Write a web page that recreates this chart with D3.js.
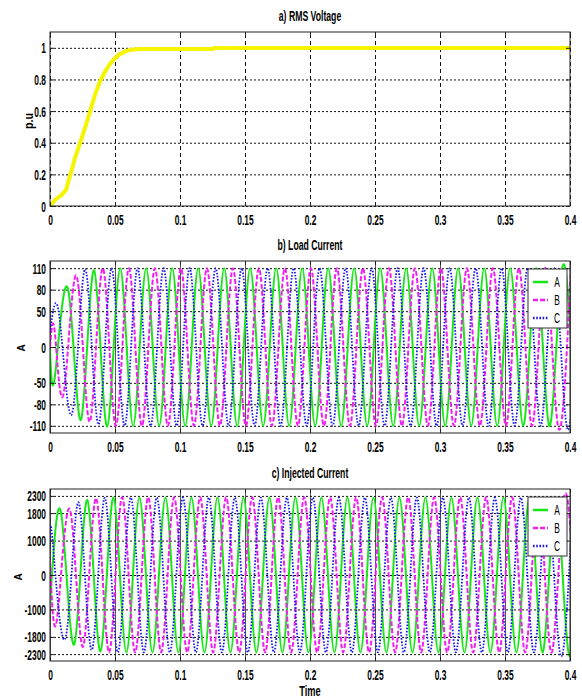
<!DOCTYPE html>
<html>
<head>
<meta charset="utf-8">
<script src="https://cdn.jsdelivr.net/npm/d3@7"></script>
<style>
  html, body { margin: 0; padding: 0; background: #fff; }
  svg { display: block; }
  text { font-family: "Liberation Sans", Arial, sans-serif; fill: #000; }
</style>
</head>
<body>
<svg id="chart" width="582" height="700"></svg>
<script>
// ---- shared time axis ----
const xTicks = [0, 0.05, 0.1, 0.15, 0.2, 0.25, 0.3, 0.35, 0.4];
const xTickLabels = ["0", "0.05", "0.1", "0.15", "0.2", "0.25", "0.3", "0.35", "0.4"];

// ---- a) RMS voltage (p.u) ----
const rmsTime  = [0, 0.0039, 0.009, 0.0123, 0.0141, 0.0167, 0.0192, 0.0231, 0.0269, 0.0308,
                  0.0346, 0.0385, 0.0423, 0.0462, 0.05, 0.0538, 0.059, 0.0641, 0.07, 0.1, 0.1255, 0.1262, 0.4];
const rmsValue = [0, 0.038, 0.07, 0.101, 0.154, 0.228, 0.302, 0.397, 0.492, 0.597,
                  0.703, 0.787, 0.85, 0.899, 0.935, 0.96, 0.981, 0.99, 0.992, 0.992, 0.992, 0.999, 0.999];
const rmsTicks = [0, 0.2, 0.4, 0.6, 0.8, 1];
const rmsTickLabels = ["0", "0.2", "0.4", "0.6", "0.8", "1"];

// ---- phase currents: one extremum every half cycle (50 Hz) ----
const halfCycle = 0.01;
const phaseNames = ["A", "B", "C"];

// b) load current (A)
const loadLeadA = [[0, -4]];
const loadStartA = 0.004;
const loadPeaksA = [-38, 80, -101, 107, -111, 110, -110, 110, -110, 110,
                    -110, 110, -110, 110, -110, 110, -110, 110, -110, 110,
                    -110, 110, -110, 110, -110, 110, -110, 110, -110, 110,
                    -110, 110, -110, 110, -110, 110, -110, 110, -110, 110,
                    -110];
const loadLeadB = [[0, 0], [0.0038, 19]];
const loadStartB = 0.0107;
const loadPeaksB = [-63, 98, -104, 110, -110, 110, -110, 110, -110, 110,
                    -110, 110, -110, 110, -110, 110, -110, 110, -110, 110,
                    -110, 110, -110, 110, -110, 110, -110, 110, -110, 110,
                    -110, 110, -110, 110, -110, 110, -110, 110, -110, 110];
const loadLeadC = [[0, 20]];
const loadStartC = 0.0074;
const loadPeaksC = [40, -90, 108, -108, 110, -110, 110, -110, 110, -110,
                    110, -110, 110, -110, 110, -110, 110, -110, 110, -110,
                    110, -110, 110, -110, 110, -110, 110, -110, 110, -110,
                    110, -110, 110, -110, 110, -110, 110, -110, 110, -110,
                    110];
const loadTicks = [-110, -80, -50, 0, 50, 80, 110];
const loadTickLabels = ["-110", "-80", "-50", "0", "50", "80", "110"];

// c) injected current (A)
const injLeadA = [[0, -900]];
const injStartA = 0.0088;
const injPeaksA = [1740, -2000, 2175, -2220, 2250, -2250, 2250, -2250, 2250, -2250,
                   2250, -2250, 2250, -2250, 2250, -2250, 2250, -2250, 2250, -2250,
                   2250, -2250, 2250, -2250, 2250, -2250, 2250, -2250, 2250, -2250,
                   2250, -2250, 2250, -2250, 2250, -2250, 2250, -2250, 2250, -2250,
                   2250];
const injLeadB = [[0, 430]];
const injStartB = 0.0055;
const injPeaksB = [-1250, 1880, -2080, 2230, -2250, 2260, -2250, 2260, -2250, 2260,
                   -2250, 2260, -2250, 2260, -2250, 2260, -2250, 2260, -2250, 2260,
                   -2250, 2260, -2250, 2260, -2250, 2260, -2250, 2260, -2250, 2260,
                   -2250, 2260, -2250, 2260, -2250, 2260, -2250, 2260, -2250, 2260,
                   -2250];
const injLeadC = [[0, 800]];
const injStartC = 0.0022;
const injPeaksC = [920, -1790, 2100, -2180, 2240, -2250, 2250, -2250, 2250, -2250,
                   2250, -2250, 2250, -2250, 2250, -2250, 2250, -2250, 2250, -2250,
                   2250, -2250, 2250, -2250, 2250, -2250, 2250, -2250, 2250, -2250,
                   2250, -2250, 2250, -2250, 2250, -2250, 2250, -2250, 2250, -2250,
                   2250];
const injTicks = [-2300, -1800, -1000, 0, 1000, 1800, 2300];
const injTickLabels = ["-2300", "-1800", "-1000", "0", "1000", "1800", "2300"];

// ---- drawing ----
const svg = d3.select("#chart");
const left = 50, right = 570;
const squeeze = 0.6;
const fontStack = "\"Liberation Sans\", Arial, sans-serif";

const x = d3.scaleLinear().domain([0, 0.4]).range([left, right]);

const phaseStyle = {
  A: { color: "#19e619", dash: null,      width: 2 },
  B: { color: "#f020f0", dash: "5,2",     width: 2 },
  C: { color: "#1a1ae6", dash: "1.6,1.6", width: 1.8 }
};

function knots(lead, start, peaks) {
  return lead.concat(peaks.map((v, k) => [start + k * halfCycle, v]));
}

function narrowLabel(parent, str, px, py, opt) {
  const g = parent.append("g")
    .attr("transform", `translate(${px},${py})` + (opt.rotate ? ` rotate(${opt.rotate})` : ""));
  g.append("text")
    .attr("transform", `scale(${opt.sx || squeeze},1)`)
    .attr("text-anchor", opt.anchor || "middle")
    .style("font-size", opt.size + "px")
    .style("font-weight", opt.weight || "normal")
    .text(str);
}

function panel(cfg) {
  const top = cfg.top, bottom = cfg.bottom;
  const h = bottom - top;
  const y = d3.scaleLinear().domain(cfg.yDomain).range([bottom, top]);
  const g = svg.append("g");
  const clipId = "clip" + cfg.id;
  svg.append("clipPath").attr("id", clipId)
    .append("rect").attr("x", left).attr("y", top).attr("width", right - left).attr("height", h);

  // vertical grid
  const vg = g.append("g").attr("transform", `translate(0,${bottom})`)
    .call(d3.axisBottom(x).tickValues(xTicks).tickSize(-h).tickFormat(""));
  vg.select(".domain").remove();
  vg.selectAll("line")
    .attr("stroke", cfg.vGridColor)
    .attr("stroke-dasharray", cfg.vGridDash)
    .attr("stroke-width", 1);

  // horizontal grid
  const hg = g.append("g").attr("transform", `translate(${left},0)`)
    .call(d3.axisLeft(y).tickValues(cfg.yTicks).tickSize(-(right - left)).tickFormat(""));
  hg.select(".domain").remove();
  hg.selectAll("line")
    .attr("stroke", "#111")
    .attr("stroke-dasharray", "2,2")
    .attr("stroke-width", 1);

  // data
  const plot = g.append("g").attr("clip-path", `url(#${clipId})`);
  cfg.draw(plot, y);

  // frame
  g.append("rect").attr("x", left).attr("y", top).attr("width", right - left).attr("height", h)
    .attr("fill", "none").attr("stroke", "#222").attr("stroke-width", 1);

  // axes with inward ticks
  const xa = g.append("g").attr("transform", `translate(0,${bottom})`)
    .call(d3.axisBottom(x).tickValues(xTicks).tickSizeInner(-4).tickSizeOuter(0)
      .tickFormat((d, i) => xTickLabels[i]));
  xa.select(".domain").remove();
  xa.selectAll("line").attr("stroke", "#222");
  xa.selectAll("text")
    .attr("y", 19).attr("dy", 0).attr("x", 0)
    .attr("transform", `scale(${squeeze},1)`)
    .attr("fill", "#000")
    .style("font-size", "14px").style("font-weight", "bold").style("font-family", fontStack);

  const ya = g.append("g").attr("transform", `translate(${left},0)`)
    .call(d3.axisLeft(y).tickValues(cfg.yTicks).tickSizeInner(-4).tickSizeOuter(0)
      .tickFormat((d, i) => cfg.yTickLabels[i]));
  ya.select(".domain").remove();
  ya.selectAll("line").attr("stroke", "#222");
  ya.selectAll("text")
    .attr("x", -4 / squeeze).attr("dy", "0.36em")
    .attr("transform", `scale(${squeeze},1)`)
    .attr("fill", "#000")
    .style("font-size", "14px").style("font-weight", "bold").style("font-family", fontStack);

  // mirrored ticks on top and right
  const ta = g.append("g").attr("transform", `translate(0,${top})`)
    .call(d3.axisTop(x).tickValues(xTicks).tickSizeInner(-4).tickSizeOuter(0).tickFormat(""));
  ta.select(".domain").remove();
  ta.selectAll("line").attr("stroke", "#222");
  const ra = g.append("g").attr("transform", `translate(${right},0)`)
    .call(d3.axisRight(y).tickValues(cfg.yTicks).tickSizeInner(-4).tickSizeOuter(0).tickFormat(""));
  ra.select(".domain").remove();
  ra.selectAll("line").attr("stroke", "#222");

  // title and y label
  narrowLabel(svg, cfg.title, (left + right) / 2, cfg.titleY, { size: 14, weight: "bold", sx: 0.62 });
  narrowLabel(svg, cfg.yLabel, cfg.yLabelX, cfg.yLabelY, { size: cfg.yLabelSize, weight: "bold", rotate: -90, sx: 0.9 });

  if (cfg.legend) drawLegend(top + 8);
}

function drawLegend(top) {
  const lx = 528, lw = 39, lh = 59;
  const lg = svg.append("g");
  lg.append("rect").attr("x", lx).attr("y", top).attr("width", lw).attr("height", lh)
    .attr("fill", "#fff").attr("stroke", "#333").attr("stroke-width", 1);
  phaseNames.forEach((p, i) => {
    const cy = top + 13 + i * 18;
    const s = phaseStyle[p];
    lg.append("line").attr("x1", lx + 5).attr("x2", lx + 20).attr("y1", cy).attr("y2", cy)
      .attr("stroke", s.color).attr("stroke-width", s.width + 0.5)
      .attr("stroke-dasharray", s.dash);
    narrowLabel(lg, p, lx + 29, cy + 5, { size: 14 });
  });
}

function drawPhases(plot, y, series) {
  const line = d3.line().x(d => x(d[0])).y(d => y(d[1])).curve(d3.curveNatural);
  phaseNames.forEach((p, i) => {
    const s = phaseStyle[p];
    plot.append("path").datum(series[i])
      .attr("d", line)
      .attr("fill", "none")
      .attr("stroke", s.color)
      .attr("stroke-width", s.width)
      .attr("stroke-dasharray", s.dash);
  });
}

// a) RMS Voltage
panel({
  id: "a", top: 32, bottom: 206, yDomain: [0, 1.1],
  yTicks: rmsTicks, yTickLabels: rmsTickLabels,
  vGridColor: "#111", vGridDash: "4,3",
  title: "a) RMS Voltage", titleY: 21,
  yLabel: "p.u", yLabelX: 33, yLabelY: 121, yLabelSize: 12,
  draw: (plot, y) => {
    const line = d3.line().x((d, i) => x(rmsTime[i])).y(d => y(d));
    plot.append("path").datum(rmsValue)
      .attr("d", line).attr("fill", "none")
      .attr("stroke", "#f5f500").attr("stroke-width", 4)
      .attr("stroke-linejoin", "round").attr("stroke-linecap", "round");
  }
});

// b) Load Current
panel({
  id: "b", top: 261, bottom: 433, yDomain: [-120, 120],
  yTicks: loadTicks, yTickLabels: loadTickLabels,
  vGridColor: "#555", vGridDash: null,
  title: "b) Load Current", titleY: 250,
  yLabel: "A", yLabelX: 25, yLabelY: 348, yLabelSize: 11,
  legend: true,
  draw: (plot, y) => drawPhases(plot, y, [
    knots(loadLeadA, loadStartA, loadPeaksA),
    knots(loadLeadB, loadStartB, loadPeaksB),
    knots(loadLeadC, loadStartC, loadPeaksC)
  ])
});

// c) Injected Current
panel({
  id: "c", top: 489, bottom: 661, yDomain: [-2500, 2500],
  yTicks: injTicks, yTickLabels: injTickLabels,
  vGridColor: "#555", vGridDash: null,
  title: "c) Injected Current", titleY: 478,
  yLabel: "A", yLabelX: 22, yLabelY: 577, yLabelSize: 11,
  legend: true,
  draw: (plot, y) => drawPhases(plot, y, [
    knots(injLeadA, injStartA, injPeaksA),
    knots(injLeadB, injStartB, injPeaksB),
    knots(injLeadC, injStartC, injPeaksC)
  ])
});

// shared x label
narrowLabel(svg, "Time", (left + right) / 2, 696, { size: 14, weight: "bold", sx: 0.66 });
</script>
</body>
</html>
